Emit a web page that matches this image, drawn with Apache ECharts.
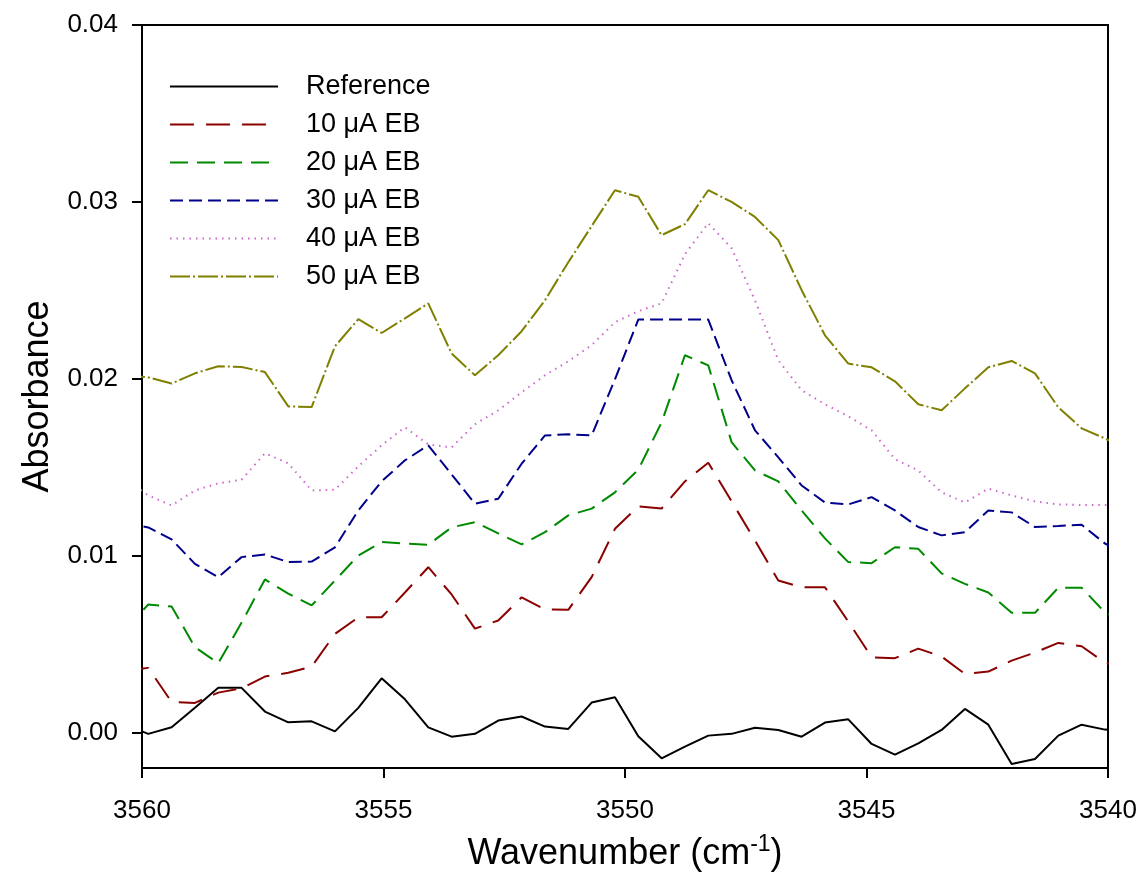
<!DOCTYPE html>
<html>
<head>
<meta charset="utf-8">
<script src="https://cdn.jsdelivr.net/npm/echarts@6/dist/echarts.min.js"></script>
<style>
  html, body { margin: 0; padding: 0; background: #fff; }
  #chart { width: 1146px; height: 890px; }
</style>
</head>
<body>
<div id="chart"></div>
<script>
// wavenumber grid (cm-1); first and last points lie just outside the axis
const wavenumbers = [3560.353, 3559.870, 3559.387, 3558.904, 3558.421, 3557.938, 3557.455, 3556.971,
  3556.488, 3556.005, 3555.522, 3555.039, 3554.556, 3554.073, 3553.590, 3553.107, 3552.624, 3552.140,
  3551.657, 3551.174, 3550.691, 3550.208, 3549.725, 3549.242, 3548.759, 3548.276, 3547.793, 3547.309,
  3546.826, 3546.343, 3545.860, 3545.377, 3544.894, 3544.411, 3543.928, 3543.445, 3542.962, 3542.478,
  3541.995, 3541.512, 3541.029, 3540.546, 3540.063, 3539.580];

const reference = [0.00045, -0.00007, 0.0003, 0.00141, 0.00253, 0.00253, 0.00119, 0.00058, 0.00064, 0.00007,
  0.0014, 0.00307, 0.00188, 0.0003, -0.00023, -0.00007, 0.00068, 0.00091, 0.00034, 0.00021, 0.0017, 0.002,
  -0.00021, -0.00145, -0.00079, -0.00017, -0.00007, 0.00027, 0.00015, -0.00023, 0.00057, 0.00075, -0.00064,
  -0.00124, -0.00061, 0.00015, 0.00134, 0.00045, -0.00177, -0.00149, -0.00017, 0.00045, 0.00017, 0.0001];

const eb10 = [0.0035, 0.00366, 0.00173, 0.00168, 0.00226, 0.00251, 0.00317, 0.00338, 0.00373, 0.00558,
  0.00652, 0.00652, 0.00792, 0.00935, 0.00781, 0.00588, 0.00634, 0.00765, 0.00696, 0.00694, 0.00879, 0.01152,
  0.01279, 0.01267, 0.0142, 0.01526, 0.01307, 0.01086, 0.0086, 0.00822, 0.00822, 0.00628, 0.00426, 0.00421,
  0.00475, 0.0043, 0.00332, 0.00345, 0.00407, 0.00453, 0.00507, 0.00488, 0.00396, 0.00362];

const eb20 = [0.00583, 0.00724, 0.00713, 0.00483, 0.00392, 0.00622, 0.00866, 0.00786, 0.00719, 0.0086,
  0.01001, 0.01077, 0.01069, 0.01062, 0.0116, 0.0119, 0.01126, 0.01064, 0.01133, 0.01228, 0.01266, 0.01358,
  0.01486, 0.01754, 0.02133, 0.02076, 0.01642, 0.01482, 0.0142, 0.01256, 0.01098, 0.00964, 0.00958, 0.01048,
  0.01039, 0.009, 0.00841, 0.00792, 0.00677, 0.00677, 0.00819, 0.00819, 0.00679, 0.00622];

const eb30 = [0.01188, 0.0116, 0.01092, 0.00954, 0.00879, 0.00992, 0.01007, 0.00964, 0.00967, 0.01047,
  0.01256, 0.0142, 0.01539, 0.01624, 0.0146, 0.01294, 0.01322, 0.0152, 0.0168, 0.01686, 0.0168, 0.01997,
  0.02335, 0.02335, 0.02335, 0.02335, 0.01992, 0.01709, 0.01556, 0.01397, 0.01301, 0.0129, 0.01331, 0.01256,
  0.01162, 0.01115, 0.01133, 0.01256, 0.01245, 0.01162, 0.01168, 0.01175, 0.01069, 0.01001];

const eb40 = [0.01437, 0.01341, 0.01284, 0.01369, 0.01409, 0.0143, 0.01579, 0.01522, 0.01369, 0.01373,
  0.01505, 0.01624, 0.01726, 0.01629, 0.01612, 0.01743, 0.01822, 0.01924, 0.0202, 0.02099, 0.0219, 0.0232,
  0.02382, 0.02427, 0.02704, 0.0288, 0.02738, 0.02444, 0.02105, 0.01935, 0.01856, 0.01788, 0.01709, 0.01545,
  0.01482, 0.01358, 0.01301, 0.01379, 0.01341, 0.01307, 0.0129, 0.01287, 0.01287, 0.01284];

const eb50 = [0.0202, 0.02008, 0.01973, 0.02031, 0.02071, 0.02067, 0.02038, 0.01844, 0.0184, 0.02184,
  0.02337, 0.02259, 0.02342, 0.02426, 0.02143, 0.0202, 0.02133, 0.02269, 0.02444, 0.02659, 0.02863, 0.03066,
  0.03029, 0.02812, 0.02874, 0.03066, 0.03, 0.02915, 0.02784, 0.02501, 0.02246, 0.02086, 0.02065, 0.01986,
  0.01856, 0.01822, 0.01946, 0.02065, 0.02101, 0.02031, 0.01839, 0.0172, 0.01663, 0.01601];

const yTicks = [0, 0.01, 0.02, 0.03, 0.04];

const font = '"Liberation Sans", Arial, sans-serif';

const seriesDefs = [
  { name: 'Reference', values: reference, color: '#000000', type: 'solid' },
  { name: '10 μA EB', values: eb10, color: '#8b0000', type: [24, 12] },
  { name: '20 μA EB', values: eb20, color: '#008a00', type: [18, 9] },
  { name: '30 μA EB', values: eb30, color: '#00008b', type: [13, 6] },
  { name: '40 μA EB', values: eb40, color: '#cc66cc', type: [1.5, 5] },
  { name: '50 μA EB', values: eb50, color: '#808000', type: [20, 3, 2, 3] }
];

const chart = echarts.init(document.getElementById('chart'), null, { renderer: 'canvas' });

chart.setOption({
  animation: false,
  backgroundColor: '#fff',
  grid: {
    left: 142, right: 38, top: 25, bottom: 122,
    show: true, borderColor: '#000', borderWidth: 2, backgroundColor: 'transparent'
  },
  legend: {
    orient: 'vertical',
    left: 164,
    top: 68,
    itemWidth: 108,
    itemHeight: 20,
    itemGap: 11,
    itemStyle: { opacity: 0 },
    textStyle: {
      fontFamily: font, fontSize: 27, color: '#000',
      padding: [0, 0, 0, 23]
    },
    data: seriesDefs.map(s => s.name)
  },
  xAxis: {
    type: 'value',
    min: 3540,
    max: 3560,
    interval: 5,
    inverse: true,
    splitLine: { show: false },
    axisLine: { onZero: false, lineStyle: { color: '#000', width: 2 } },
    axisTick: { length: 10, lineStyle: { color: '#000', width: 2 } },
    axisLabel: {
      margin: 30, fontFamily: font, fontSize: 26, color: '#000',
      formatter: v => String(v)
    },
    name: '{a|Wavenumber (cm}{b|-1}{a|)}',
    nameLocation: 'middle',
    nameGap: 65,
    nameTextStyle: {
      rich: {
        a: { fontFamily: font, fontSize: 36, color: '#000', lineHeight: 42 },
        b: { fontFamily: font, fontSize: 23, color: '#000', lineHeight: 42, verticalAlign: 'top' }
      }
    }
  },
  yAxis: {
    type: 'value',
    min: -0.002,
    max: 0.04,
    splitLine: { show: false },
    axisLine: { onZero: false, lineStyle: { color: '#000', width: 2 } },
    axisTick: { length: 10, customValues: yTicks, lineStyle: { color: '#000', width: 2 } },
    axisLabel: {
      margin: 24, fontFamily: font, fontSize: 26, color: '#000',
      customValues: yTicks,
      formatter: v => v.toFixed(2)
    },
    name: 'Absorbance',
    nameLocation: 'middle',
    nameGap: 81,
    nameTextStyle: { fontFamily: font, fontSize: 36, color: '#000' }
  },
  series: seriesDefs.map(s => ({
    name: s.name,
    type: 'line',
    symbol: 'none',
    clip: true,
    lineStyle: { color: s.color, width: 2, type: s.type },
    itemStyle: { color: s.color },
    data: wavenumbers.map((w, i) => [w, s.values[i]])
  }))
});
</script>
</body>
</html>
